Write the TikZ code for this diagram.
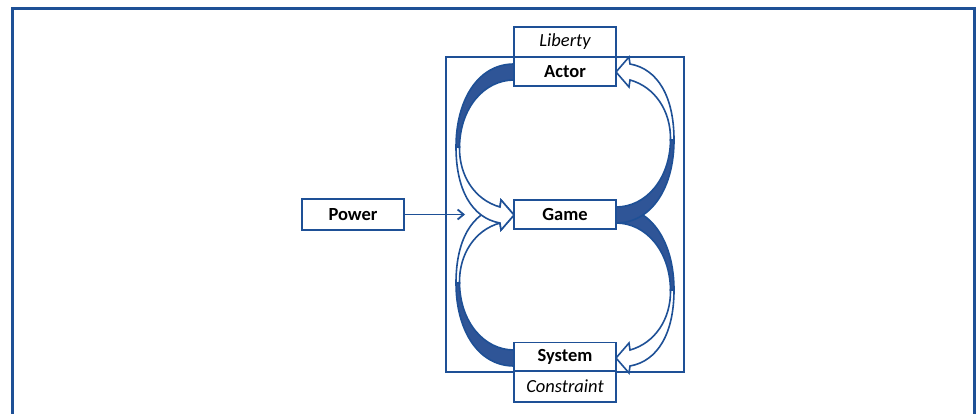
\documentclass[tikz,border=0pt]{standalone}
\usepackage{fontspec}
\setmainfont{Carlito}
\usetikzlibrary{arrows.meta}
\definecolor{lineblue}{RGB}{30,80,150}
\definecolor{ribdark}{RGB}{47,85,151}
\tikzset{
  box/.style={draw=lineblue, line width=1.8pt, fill=white, minimum width=102pt, inner sep=0pt, font=\fontsize{18.5}{21}\selectfont},
  rib/.style={draw=lineblue, line width=1.6pt, line join=miter},
}
\newcommand{\ribbonarrow}{%
  \filldraw[rib, fill=white] (456,147) .. controls (456,190) and (472,218) .. (500,223)
     -- (501,230) -- (514,215) -- (501,200) -- (500,207)
     .. controls (475,200) and (459,176) .. (459.5,147) -- cycle;
  \filldraw[rib, fill=ribdark] (514,64) .. controls (478,64) and (456,100) .. (456,147)
     -- (459.5,147) .. controls (460,108) and (484,80) .. (514,80) -- cycle;
}
\begin{document}
\begin{tikzpicture}[x=1pt,y=-1pt]
\useasboundingbox (0,0) rectangle (976,414);
% outer frame
\draw[lineblue, line width=3pt] (12,420) -- (12,9) -- (974.5,9) -- (974.5,420);
% inner frame
\draw[lineblue, line width=2pt] (446,57) rectangle (684,371.5);
% curved ribbon arrows
\begin{scope}[shift={(0,430)}, yscale=-1]\ribbonarrow\end{scope}
\ribbonarrow
\begin{scope}[shift={(1130,143)}, xscale=-1]\ribbonarrow\end{scope}
\begin{scope}[shift={(1130,287)}, xscale=-1, yscale=-1]\ribbonarrow\end{scope}
% boxes
\node[box, minimum height=30.5pt] (liberty) at (565,42) {\itshape Liberty};
\node[box, minimum height=28.5pt] (actor) at (565,71.5) {\bfseries Actor};
\node[box, minimum height=29pt] (game) at (565,214.5) {\bfseries Game};
\node[box, minimum height=29pt] (system) at (565,357) {\bfseries System};
\node[box, minimum height=31pt] (constraint) at (565,386.5) {\itshape Constraint};
\node[box, minimum height=31pt] (power) at (353,214.5) {\bfseries Power};
\coordinate (ptip) at (465,214.5);
\draw[lineblue, line width=1.8pt, -{Straight Barb[length=6pt,width=10pt,line width=1.8pt]}] (power.east) -- (ptip);
\end{tikzpicture}
\end{document}
